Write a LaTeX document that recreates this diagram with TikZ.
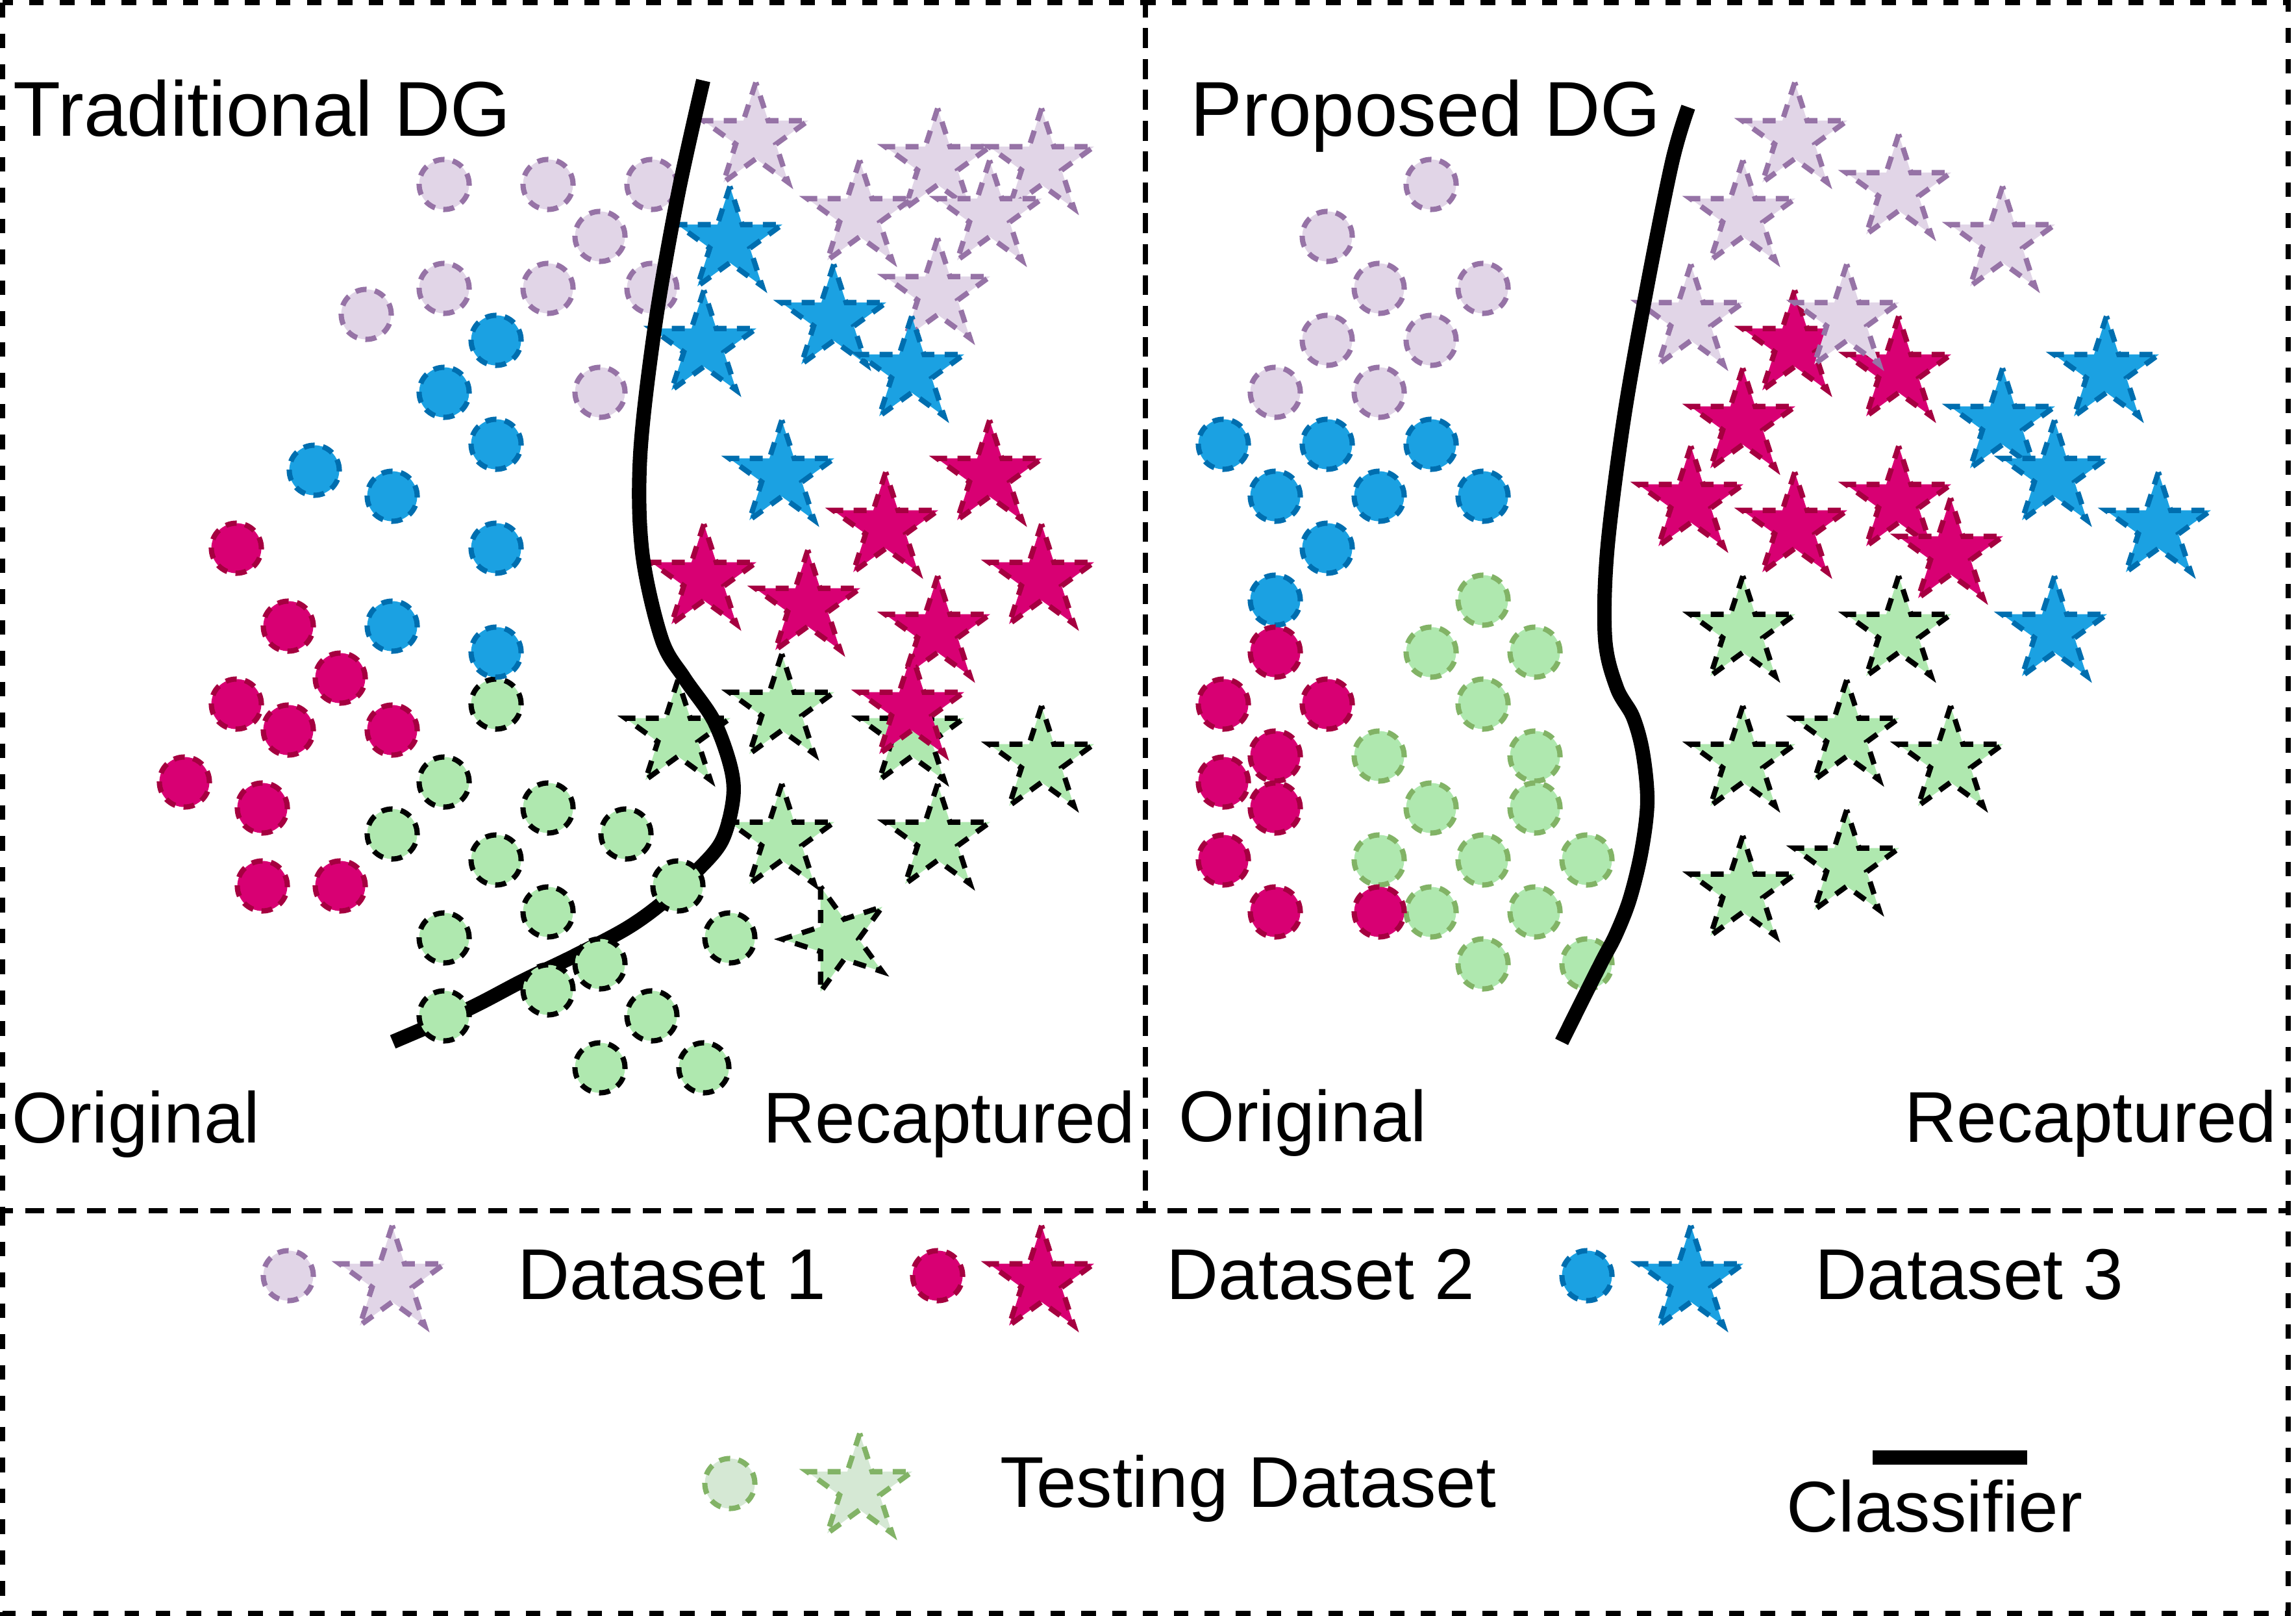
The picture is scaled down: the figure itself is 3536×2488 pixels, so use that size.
\documentclass[tikz,border=0pt]{standalone}
\usepackage{fontspec}
\setmainfont{Liberation Sans}
\usetikzlibrary{shapes.geometric}

\definecolor{onefill}{HTML}{E1D5E7}
\definecolor{oneline}{HTML}{9673A6}
\definecolor{twofill}{HTML}{D80073}
\definecolor{twoline}{HTML}{A50040}
\definecolor{threefill}{HTML}{1BA1E2}
\definecolor{threeline}{HTML}{006EAF}
\definecolor{testfill}{HTML}{AFE8AF}
\definecolor{testline}{HTML}{82B366}
\definecolor{testlight}{HTML}{D5E8D4}

\begin{document}
\begin{tikzpicture}[x=0.01cm,y=-0.01cm,
    panel/.style={draw=black,line width=2.4pt,dash pattern=on 0.225cm off 0.25cm},
    dot/.style={circle,inner sep=0pt,minimum size=0.77cm,line width=2.3pt,dash pattern=on 0.17cm off 0.13cm},
    spike/.style={star,star points=5,star point ratio=2.618,inner sep=0pt,minimum size=1.7cm,line width=2.3pt,dash pattern=on 0.2cm off 0.16cm},
    dsone/.style={fill=onefill,draw=oneline},
    dstwo/.style={fill=twofill,draw=twoline},
    dsthree/.style={fill=threefill,draw=threeline},
    dstest/.style={fill=testfill,draw=black},
    classifier/.style={draw=black,line width=6.3pt},
    title/.style={font=\fontsize{34}{40}\selectfont,inner sep=0pt},
    tag/.style={font=\fontsize{31.5}{38}\selectfont,inner sep=0pt}]

  \useasboundingbox (0,0) rectangle (3536,2488);

  % % draw frames
  \draw[panel] (4,4) rectangle (1764,1864);
  \draw[panel] (1764,4) rectangle (3524,1864);
  \draw[panel] (4,1864) rectangle (3524,2484);

  % % draw traditional DG
  \node[title,anchor=base west] (tradTitle) at (20,209) {Traditional DG};
  \node[tag,anchor=base west] (tradOrig) at (18,1759) {Original};
  \node[tag,anchor=base east] (tradRecap) at (1749,1759) {Recaptured};

  \foreach \x/\y [count=\i] in {684/284,844/284,1004/284,924/364,684/444,844/444,1004/444,564/484,924/604}
    \node[dot,dsone] (tOneDot\i) at (\x,\y) {};

  \foreach \x/\y [count=\i] in {1164/212,1444/252,1604/252,1324/332,1524/332,1444/452}
    \node[spike,dsone] (tOneStar\i) at (\x,\y) {};
  \foreach \x/\y [count=\i] in {1124/372,1084/532,1284/492,1404/572,1204/732}
    \node[spike,dsthree] (tThreeStar\i) at (\x,\y) {};
  \foreach \x/\y [count=\i] in {1044/1132,1204/1092,1404/1132,1604/1172,1204/1292,1444/1292}
    \node[spike,dstest] (tTestStar\i) at (\x,\y) {};
  \node[spike,dstest,rotate=18] (tTestStar7) at (1290,1446) {};
  \foreach \x/\y [count=\i] in {1524/732,1364/812,1084/892,1244/932,1604/892,1444/972,1404/1092}
    \node[spike,dstwo] (tTwoStar\i) at (\x,\y) {};

  \draw[classifier] plot[smooth,tension=0.55] coordinates {(1083,124) (1044,300) (1009,500) (986,700) (989,850) (1019,984) (1054,1044) (1099,1109) (1125,1180) (1129,1230) (1112,1294) (1074,1340) (1020,1390) (964,1430) (880,1474) (805,1510) (720,1554) (605,1604)};

  \foreach \x/\y [count=\i] in {764/1084,684/1204,844/1244,604/1284,964/1284,764/1324,844/1404,1044/1364,684/1444,1124/1444,924/1484,844/1524,684/1564,1004/1564,924/1644,1084/1644}
    \node[dot,dstest] (tTestDot\i) at (\x,\y) {};
  \foreach \x/\y [count=\i] in {764/524,684/604,764/684,484/724,604/764,764/844,604/964,764/1004}
    \node[dot,dsthree] (tThreeDot\i) at (\x,\y) {};
  \foreach \x/\y [count=\i] in {364/844,444/964,524/1044,364/1084,444/1124,604/1124,284/1204,404/1244,404/1364,524/1364}
    \node[dot,dstwo] (tTwoDot\i) at (\x,\y) {};

  % % draw proposed DG
  \node[title,anchor=base west] (propTitle) at (1833,209) {Proposed DG};
  \node[tag,anchor=base west] (propOrig) at (1815,1757) {Original};
  \node[tag,anchor=base east] (propRecap) at (3507,1758) {Recaptured};

  \foreach \x/\y [count=\i] in {2204/284,2044/364,2124/444,2284/444,2044/524,2204/524,1964/604,2124/604}
    \node[dot,dsone] (pOneDot\i) at (\x,\y) {};
  \foreach \x/\y [count=\i] in {1884/684,2044/684,2204/684,1964/764,2124/764,2284/764,2044/844,1964/924}
    \node[dot,dsthree] (pThreeDot\i) at (\x,\y) {};
  \foreach \x/\y [count=\i] in {2284/924,2204/1004,2364/1004,2284/1084,2124/1164,2364/1164,2204/1244,2364/1244,2124/1324,2284/1324,2444/1324,2204/1404,2364/1404,2284/1484,2444/1484}
    \node[dot,dstest,draw=testline] (pTestDot\i) at (\x,\y) {};
  \foreach \x/\y [count=\i] in {1964/1004,1884/1084,2044/1084,1964/1164,1884/1204,1964/1244,1884/1324,1964/1404,2124/1404}
    \node[dot,dstwo] (pTwoDot\i) at (\x,\y) {};

  \foreach \x/\y [count=\i] in {2764/532,2924/572,2684/652,2604/772,2764/812,2924/772,3004/852}
    \node[spike,dstwo] (pTwoStar\i) at (\x,\y) {};
  \foreach \x/\y [count=\i] in {2764/212,2684/332,2924/292,3084/372,2604/492,2844/492}
    \node[spike,dsone] (pOneStar\i) at (\x,\y) {};
  \foreach \x/\y [count=\i] in {3084/652,3164/732,3244/572,3324/812,3164/972}
    \node[spike,dsthree] (pThreeStar\i) at (\x,\y) {};
  \foreach \x/\y [count=\i] in {2684/972,2924/972,2684/1172,2844/1132,3004/1172,2684/1372,2844/1332}
    \node[spike,dstest] (pTestStar\i) at (\x,\y) {};

  \draw[classifier] plot[smooth,tension=0.55] coordinates {(2600,165) (2575,250) (2535,450) (2500,650) (2475,850) (2472,984) (2490,1059) (2515,1104) (2530,1159) (2537,1234) (2528,1310) (2510,1384) (2488,1440) (2465,1484) (2405,1604)};

  % % draw legend
  \node[dot,dsone] (keyOneDot) at (444,1964) {};
  \node[spike,dsone] (keyOneStar) at (604,1972) {};
  \node[tag,anchor=base west] (keyOneText) at (797,2000) {Dataset 1};

  \node[dot,dstwo] (keyTwoDot) at (1444,1964) {};
  \node[spike,dstwo] (keyTwoStar) at (1604,1972) {};
  \node[tag,anchor=base west] (keyTwoText) at (1796,2000) {Dataset 2};

  \node[dot,dsthree] (keyThreeDot) at (2444,1964) {};
  \node[spike,dsthree] (keyThreeStar) at (2604,1972) {};
  \node[tag,anchor=base west] (keyThreeText) at (2795,2000) {Dataset 3};

  \node[dot,fill=testlight,draw=testline] (keyTestDot) at (1124,2284) {};
  \node[spike,fill=testlight,draw=testline] (keyTestStar) at (1324,2292) {};
  \node[tag,anchor=base west] (keyTestText) at (1540,2320) {Testing Dataset};

  \coordinate (keyLineA) at (2884,2244);
  \coordinate (keyLineB) at (3122,2244);
  \draw[classifier] (keyLineA) -- (keyLineB);
  \node[tag,anchor=base west] (keyLineText) at (2751,2358) {Classifier};

\end{tikzpicture}
\end{document}
